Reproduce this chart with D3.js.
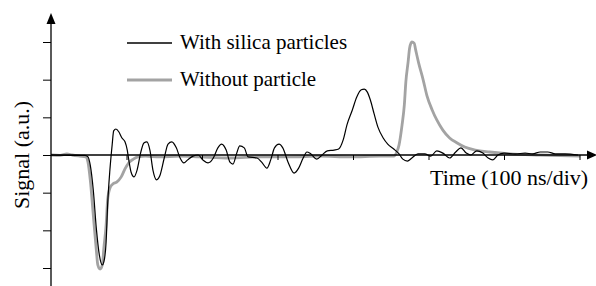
<!DOCTYPE html>
<html>
<head>
<meta charset="utf-8">
<script src="https://cdn.jsdelivr.net/npm/d3@7"></script>
<style>
  body { margin: 0; background: #fff; }
  text { font-family: "Liberation Serif", "Times New Roman", serif; fill: #000; }
</style>
</head>
<body>
<div class="signal-chart-container"></div>
<script>
// time in divisions (100 ns/div), signal in arbitrary units
var conParticulas = [
  [0, 0], [0.25, -0.01], [0.45, -0.01], [0.49, -0.05], [0.52, -0.27], [0.56, -0.93],
  [0.60, -1.94], [0.64, -2.65], [0.68, -2.92], [0.70, -2.84], [0.73, -2.31], [0.75, -1.33],
  [0.78, -0.40], [0.81, 0.27], [0.83, 0.64], [0.86, 0.69], [0.90, 0.61], [0.94, 0.45],
  [0.98, 0.35], [1.01, 0.13], [1.03, -0.13], [1.06, -0.45], [1.10, -0.58], [1.14, -0.40],
  [1.19, 0.08], [1.23, 0.32], [1.27, 0.35], [1.31, 0.13], [1.35, -0.40], [1.40, -0.66],
  [1.44, -0.56], [1.50, -0.08], [1.55, 0.29], [1.60, 0.35], [1.66, 0.19], [1.71, -0.08],
  [1.76, -0.21], [1.81, -0.13], [1.88, -0.03], [1.95, 0], [2.01, -0.13], [2.08, -0.21],
  [2.15, -0.08], [2.21, 0.19], [2.26, 0.29], [2.32, 0.13], [2.37, -0.19], [2.41, -0.24],
  [2.46, 0.05], [2.50, 0.24], [2.56, 0.19], [2.61, -0.05], [2.73, -0.08], [2.79, -0.19],
  [2.86, -0.35], [2.91, -0.13], [2.96, 0.19], [3.02, 0.29], [3.07, 0.19], [3.14, -0.19],
  [3.22, -0.48], [3.28, -0.35], [3.34, -0.08], [3.39, 0.08], [3.44, 0.03], [3.52, -0.11],
  [3.59, 0], [3.66, 0.11], [3.75, 0.13], [3.81, 0.16], [3.87, 0.40], [3.92, 0.80],
  [3.99, 1.19], [4.05, 1.54], [4.11, 1.73], [4.15, 1.75], [4.19, 1.67], [4.23, 1.46],
  [4.28, 1.09], [4.33, 0.74], [4.40, 0.45], [4.46, 0.29], [4.54, 0.16], [4.61, 0.03],
  [4.66, -0.11], [4.72, -0.16], [4.78, -0.08], [4.86, 0.03], [4.95, 0.03], [5.03, -0.03],
  [5.11, 0.11], [5.19, 0.05], [5.28, -0.08], [5.36, 0.08], [5.43, 0.19], [5.50, 0.05],
  [5.56, 0], [5.64, 0.11], [5.72, 0.05], [5.79, -0.08], [5.85, -0.13], [5.92, 0],
  [6.00, 0.05], [6.15, 0.03], [6.28, 0.05], [6.38, 0.03], [6.48, 0.08], [6.58, 0.08],
  [6.68, 0.03], [6.81, 0.03], [6.98, 0]
];

var sinParticulas = [
  [0, 0], [0.12, -0.01], [0.21, 0.03], [0.28, 0], [0.38, -0.03], [0.46, -0.05],
  [0.49, -0.19], [0.52, -0.66], [0.56, -1.59], [0.60, -2.52], [0.62, -2.92], [0.65, -3.03],
  [0.68, -2.92], [0.70, -2.47], [0.73, -1.86], [0.75, -1.19], [0.78, -0.88], [0.82, -0.77],
  [0.87, -0.72], [0.93, -0.58], [0.98, -0.37], [1.03, -0.21], [1.09, -0.11], [1.15, -0.05],
  [1.25, -0.03], [1.44, -0.05], [1.71, -0.03], [1.97, -0.05], [2.37, -0.08], [2.77, -0.05],
  [3.17, -0.05], [3.56, -0.03], [3.96, -0.05], [4.36, -0.03], [4.54, -0.03], [4.58, 0.08],
  [4.61, 0.27], [4.65, 0.80], [4.68, 1.33], [4.70, 1.94], [4.73, 2.47], [4.75, 2.84],
  [4.78, 3.00], [4.81, 2.97], [4.83, 2.79], [4.87, 2.44], [4.93, 1.99], [4.98, 1.57],
  [5.05, 1.19], [5.11, 0.93], [5.19, 0.66], [5.28, 0.45], [5.38, 0.32], [5.48, 0.21],
  [5.62, 0.13], [5.81, 0.08], [6.08, 0.03], [6.48, 0], [7.01, -0.03]
];

var leyenda = ["With silica particles", "Without particle"];
var ticksX = [1, 2, 3, 4, 5, 6, 7];
var ticksY = [-3, -2, -1, 0, 1, 2, 3];

var width = 596,
    height = 286;

var svg = d3.select('.signal-chart-container')
    .append('svg')
    .attr("width", width)
    .attr("height", height);

var x = d3.scaleLinear()
    .domain([0, 7])
    .range([51, 579.5]);

var y = d3.scaleLinear()
    .domain([-3, 3])
    .range([268, 42]);

var line = d3.line()
    .x(function(d) { return x(d[0]); })
    .y(function(d) { return y(d[1]); })
    .curve(d3.curveMonotoneX);

// curva gris debajo
svg.append("path")
    .datum(sinParticulas)
    .attr("fill", "none")
    .attr("stroke", "#a3a3a3")
    .attr("stroke-width", 2.8)
    .attr("stroke-linejoin", "round")
    .attr("d", line);

// ejes
var xAxis = d3.axisBottom(x)
    .tickValues(ticksX)
    .tickSize(5)
    .tickSizeOuter(0)
    .tickFormat("");

var yAxis = d3.axisLeft(y)
    .tickValues(ticksY)
    .tickSize(8)
    .tickSizeOuter(0)
    .tickFormat("");

var gx = svg.append("g")
    .attr("transform", "translate(0," + y(0) + ")")
    .call(xAxis);
gx.select(".domain").remove();
gx.selectAll("line").attr("stroke", "#000").attr("stroke-width", 1);

var gy = svg.append("g")
    .attr("transform", "translate(" + x(0) + ",0)")
    .call(yAxis);
gy.select(".domain").remove();
gy.selectAll("line").attr("stroke", "#000").attr("stroke-width", 1);

svg.append("line")
    .attr("x1", x(0)).attr("x2", 589)
    .attr("y1", y(0)).attr("y2", y(0))
    .attr("stroke", "#000").attr("stroke-width", 1.3);

svg.append("path")
    .attr("d", "M" + 597 + "," + y(0) + "L" + 587 + "," + (y(0) - 4.5) + "L" + 587 + "," + (y(0) + 4.5) + "Z")
    .attr("fill", "#000");

svg.append("line")
    .attr("x1", x(0)).attr("x2", x(0))
    .attr("y1", height).attr("y2", 22)
    .attr("stroke", "#000").attr("stroke-width", 1.3);

svg.append("path")
    .attr("d", "M" + x(0) + ",13L" + (x(0) - 4.5) + ",24L" + (x(0) + 4.5) + ",24Z")
    .attr("fill", "#000");

// curva negra encima
svg.append("path")
    .datum(conParticulas)
    .attr("fill", "none")
    .attr("stroke", "#000")
    .attr("stroke-width", 1.2)
    .attr("stroke-linejoin", "round")
    .attr("d", line);

// leyenda
var colores = ["#000", "#a3a3a3"];
var anchos = [1.3, 2.8];
var leg = svg.selectAll(".leg")
    .data(leyenda)
    .enter().append("g")
    .attr("class", "leg")
    .attr("transform", function(d, i) { return "translate(0," + (43 + i * 37) + ")"; });

leg.append("line")
    .attr("x1", 127).attr("x2", 172)
    .attr("stroke", function(d, i) { return colores[i]; })
    .attr("stroke-width", function(d, i) { return anchos[i]; });

leg.append("text")
    .attr("x", 180)
    .attr("y", 6)
    .style("font-size", "21px")
    .text(function(d) { return d; });

svg.append("text")
    .attr("x", 430)
    .attr("y", 185)
    .style("font-size", "22px")
    .text("Time (100 ns/div)");

svg.append("text")
    .attr("transform", "translate(29," + y(0) + ") rotate(-90)")
    .attr("text-anchor", "middle")
    .style("font-size", "22px")
    .text("Signal (a.u.)");
</script>
</body>
</html>
